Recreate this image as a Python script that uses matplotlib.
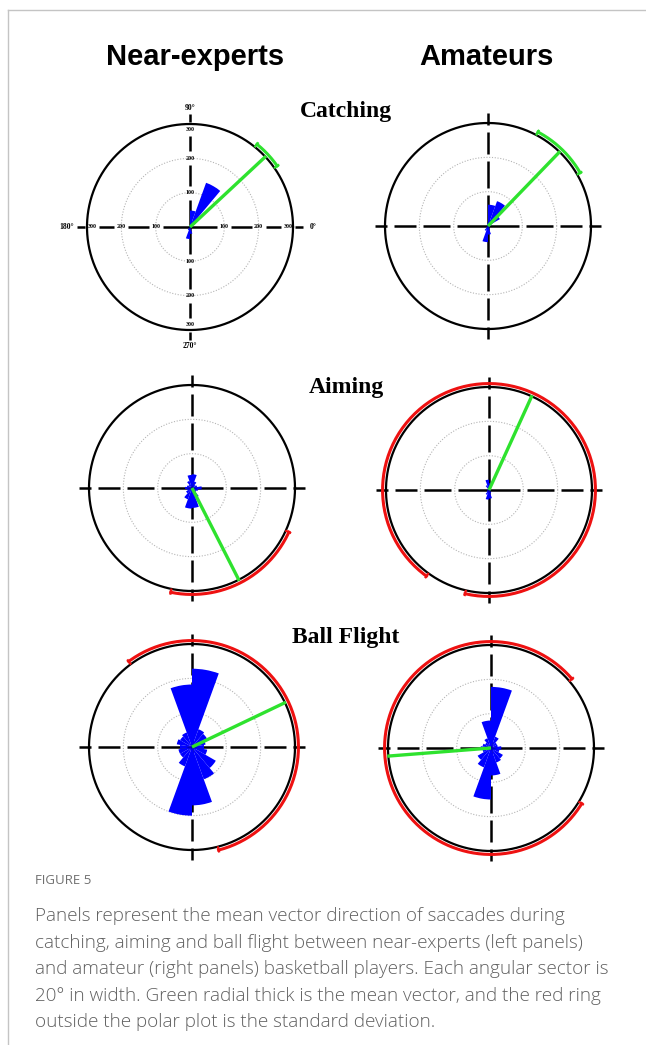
import numpy as np
import matplotlib
matplotlib.use('Agg')
import matplotlib.pyplot as plt
from matplotlib.lines import Line2D

W, H = 646, 1045

# rose bins: 20 deg wide, centred on 0, 20, ..., 340
bin_centers = np.arange(0, 360, 20)

# sector lengths (outer circle = 300)
catch_near = [5, 8, 20, 137, 48, 5, 3, 2, 2, 2, 2, 2, 10, 35, 20, 5, 3, 3]
catch_amat = [5, 10, 40, 77, 62, 8, 3, 2, 2, 2, 2, 5, 15, 47, 25, 8, 3, 3]
aim_near = [28, 15, 12, 20, 40, 38, 22, 12, 15, 20, 15, 20, 35, 60, 58, 30, 15, 18]
aim_amat = [5, 5, 5, 10, 20, 30, 15, 5, 5, 5, 5, 8, 15, 28, 25, 10, 5, 5]
ball_near = [35, 40, 50, 55, 228, 182, 45, 40, 45, 35, 40, 40, 60, 200, 170, 100, 80, 45]
ball_amat = [30, 20, 20, 35, 178, 80, 30, 20, 25, 30, 25, 45, 60, 150, 80, 45, 40, 25]

# mean vector direction and standard deviation (deg)
mean_dirs = [43, 46, 297, 65.5, 25.5, 184.5]
std_devs = [8, 16, 38.5, 168.5, 101, 144]
std_colors = ['#2ee22e', '#2ee22e', '#ee1111', '#ee1111', '#ee1111', '#ee1111']

panel_data = [catch_near, catch_amat, aim_near, aim_amat, ball_near, ball_amat]
# panel centres in pixels
centers_px = [(190, 227), (488, 226), (192, 488), (489, 490), (192, 747), (491, 748)]

col_titles = ['Near-experts', 'Amateurs']
row_titles = ['Catching', 'Aiming', 'Ball Flight']
ring_labels = ['100', '200', '300']
angle_labels = ['0°', '90°', '180°', '270°']

caption_head = 'FIGURE 5'
caption_lines = [
    'Panels represent the mean vector direction of saccades during',
    'catching, aiming and ball flight between near-experts (left panels)',
    'and amateur (right panels) basketball players. Each angular sector is',
    '20° in width. Green radial thick is the mean vector, and the red ring',
    'outside the polar plot is the standard deviation.',
]

RMAX = 300
RLIM = 350
R_PX = 103  # pixel radius of the 300 circle

fig = plt.figure(figsize=(W / 100, H / 100), dpi=100)

# page frame
fig.add_artist(Line2D([8 / W, 1], [1 - 10 / H, 1 - 10 / H], color='#c4c4c4', lw=1))
fig.add_artist(Line2D([8 / W, 8 / W], [1 - 10 / H, 0], color='#c4c4c4', lw=1))


def draw_panel(i, vals, mean, std, std_col):
    cx, cy = centers_px[i]
    half = R_PX * RLIM / RMAX
    ax = fig.add_axes([(cx - half) / W, 1 - (cy + half) / H, 2 * half / W, 2 * half / H],
                      projection='polar')
    ax.set_ylim(0, RLIM)
    ax.axis('off')

    t = np.linspace(0, 2 * np.pi, 400)
    for r in (100, 200):
        ax.plot(t, np.full_like(t, r), color='#b5b5b5', lw=0.8, ls=(0, (1, 1.5)))

    # crosshair with gaps at the rings
    first = (i == 0)
    g = 20 if first else 10
    stops = [0, 100, 200, 285, 328]
    for a in (0, 90, 180, 270):
        th = np.deg2rad(a)
        for k in range(len(stops) - 1):
            r0 = stops[k] + (g if k > 0 else 0)
            r1 = stops[k + 1] - (g if k < len(stops) - 2 else 0)
            ax.plot([th, th], [r0, r1], color='black', lw=1.8, solid_capstyle='butt')
        if first:
            for rr, lab in zip(stops[1:4], ring_labels):
                ax.text(th, rr, lab, ha='center', va='center', fontsize=4.3,
                        family='Liberation Serif', fontweight='bold')

    if first:
        for a, lab in zip((0, 90, 180, 270), angle_labels):
            rr = 347 if a in (90, 270) else 358
            ax.text(np.deg2rad(a), rr, lab, ha='center', va='center', fontsize=5.5,
                    family='Liberation Serif', fontweight='bold', clip_on=False)

    ax.bar(np.deg2rad(bin_centers), vals, width=np.deg2rad(20), color='#0000ff',
           edgecolor='none', zorder=3)

    ax.plot(t, np.full_like(t, RMAX), color='black', lw=1.6, zorder=4)

    # standard deviation ring
    ta = np.deg2rad(np.linspace(mean - std, mean + std, 200))
    ax.plot(ta, np.full_like(ta, 310), color=std_col, lw=2.2, zorder=5)
    for e in (mean - std, mean + std):
        ax.plot([np.deg2rad(e)] * 2, [302, 314], color=std_col, lw=1.6, zorder=5)

    # mean vector
    ax.plot([np.deg2rad(mean)] * 2, [0, RMAX + 3], color='#2ee22e', lw=2.4, zorder=6,
            solid_capstyle='butt')


for i, vals in enumerate(panel_data):
    draw_panel(i, vals, mean_dirs[i], std_devs[i], std_colors[i])

# column headings
for x, lab in zip((195, 486), col_titles):
    fig.text(x / W, 1 - 57 / H, lab, ha='center', va='center', fontsize=21,
             family='Liberation Sans', fontweight='bold')

# row headings
for y, lab in zip((112, 388, 638), row_titles):
    fig.text(346 / W, 1 - y / H, lab, ha='center', va='center', fontsize=17,
             family='Liberation Serif', fontweight='bold')

# caption
fig.text(35 / W, 1 - 881 / H, caption_head, ha='left', va='center', fontsize=9.5,
         family='Open Sans', color='#707070')
for k, line in enumerate(caption_lines):
    fig.text(35 / W, 1 - (916 + 26.6 * k) / H, line, ha='left', va='center',
             fontsize=13.6, family='Open Sans', fontweight='light', color='#606060')

fig.savefig('out.png', dpi=100)
